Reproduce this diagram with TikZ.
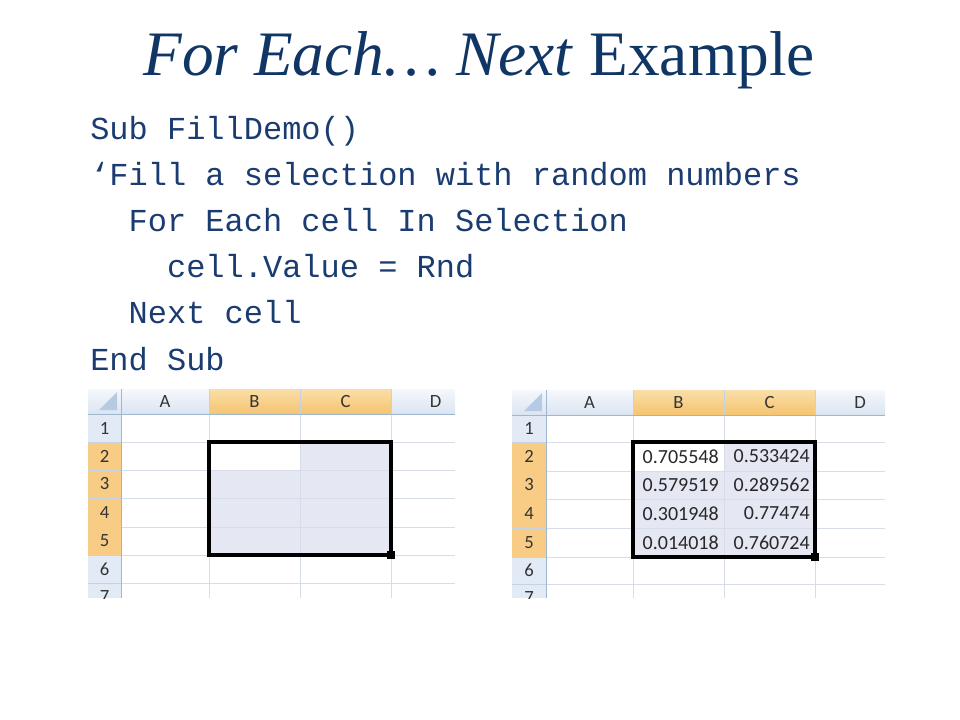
\documentclass[tikz,border=0pt]{standalone}
\usepackage{fontspec}
\setmainfont{Liberation Serif}
\setmonofont{Liberation Mono}
\newfontfamily\sheetfont{Carlito}
\definecolor{slidenavy}{RGB}{16,54,102}
\definecolor{codenavy}{RGB}{26,60,112}
\definecolor{headtop}{RGB}{245,248,252}
\definecolor{headbot}{RGB}{218,228,241}
\definecolor{seltop}{RGB}{250,222,168}
\definecolor{selbot}{RGB}{245,196,112}
\definecolor{rowblue}{RGB}{226,234,246}
\definecolor{roworange}{RGB}{248,204,132}
\definecolor{cornertri}{RGB}{182,202,228}
\definecolor{gridgray}{RGB}{214,220,232}
\definecolor{headline}{RGB}{158,182,206}
\definecolor{headsep}{RGB}{197,210,226}
\definecolor{selfill}{RGB}{229,231,243}
\definecolor{headtext}{RGB}{52,52,52}
\definecolor{celltext}{RGB}{40,40,40}

\begin{document}
\begin{tikzpicture}[x=0.75pt,y=0.75pt,yscale=-1,xscale=1,
  codeline/.style={anchor=base west,inner sep=0pt,text=codenavy,font=\fontsize{24}{28}\selectfont\ttfamily},
  headlabel/.style={inner sep=0.75pt,text=headtext,font=\sheetfont\fontsize{14}{16}\selectfont},
  cellvalue/.style={anchor=east,inner sep=0.75pt,text=celltext,font=\sheetfont\fontsize{15}{18}\selectfont},
  gridline/.style={draw=gridgray,line width=0.75},
  headborder/.style={draw=headline,line width=0.75},
  headdivider/.style={draw=headsep,line width=0.75},
  selborder/.style={draw=black,line width=2.4},
]
\useasboundingbox (0,0) rectangle (960,720);

% Text Node
\draw (479,76) node [anchor=base] [inner sep=0pt,text=slidenavy,font=\fontsize{47.5}{56}\selectfont] (title) {\textit{For Each… Next} Example};
% Text Node
\draw (90,140) node [codeline] (code1) {Sub FillDemo()};
% Text Node
\draw (90,186) node [codeline] (code2) {‘Fill a selection with random numbers};
% Text Node
\draw (128.4,232) node [codeline] (code3) {For Each cell In Selection};
% Text Node
\draw (166.8,278) node [codeline] (code4) {cell.Value = Rnd};
% Text Node
\draw (128.4,324) node [codeline] (code5) {Next cell};
% Text Node
\draw (90,370) node [codeline] (code6) {End Sub};

%Sheet before the macro
\begin{scope}
\clip (88,389) rectangle (455,598);
%Shape: Rectangle [row headers]
\fill [color=rowblue] (88,414) rectangle (121,598);
\fill [color=roworange] (88,442) rectangle (121,555);
%Shape: Rectangle [column headers]
\shade [top color=headtop,bottom color=headbot] (88,389) rectangle (455,414);
\shade [top color=seltop,bottom color=selbot] (209,389) rectangle (391,414);
%Shape: Triangle [corner]
\fill [color=cornertri] (117,392) -- (117,410) -- (99,410) -- cycle ;
%Shape: Rectangle [selection]
\fill [color=selfill] (209,442) rectangle (391,555);
\fill [color=white] (209,442) rectangle (300,470);
%Straight Lines [grid]
\draw [gridline] (209,414) -- (209,598) ;
\draw [gridline] (300,414) -- (300,598) ;
\draw [gridline] (391,414) -- (391,598) ;
\draw [gridline] (121,442) -- (455,442) ;
\draw [gridline] (121,470) -- (455,470) ;
\draw [gridline] (121,498) -- (455,498) ;
\draw [gridline] (121,527) -- (455,527) ;
\draw [gridline] (121,555) -- (455,555) ;
\draw [gridline] (121,583) -- (455,583) ;
%Straight Lines [header borders]
\draw [headborder] (88,414) -- (455,414) ;
\draw [headborder] (121,389) -- (121,598) ;
\draw [headdivider] (209,389) -- (209,414) ;
\draw [headdivider] (300,389) -- (300,414) ;
\draw [headdivider] (391,389) -- (391,414) ;
\draw [headdivider] (88,442) -- (121,442) ;
\draw [headdivider] (88,470) -- (121,470) ;
\draw [headdivider] (88,498) -- (121,498) ;
\draw [headdivider] (88,527) -- (121,527) ;
\draw [headdivider] (88,555) -- (121,555) ;
\draw [headdivider] (88,583) -- (121,583) ;
% Text Node
\draw (165,402) node [headlabel] (lA) {A};
\draw (254.5,402) node [headlabel] (lB) {B};
\draw (345.5,402) node [headlabel] (lC) {C};
\draw (435.5,402) node [headlabel] (lD) {D};
\draw (104.5,428) node [headlabel] (l1) {1};
\draw (104.5,456) node [headlabel] (l2) {2};
\draw (104.5,484) node [headlabel] (l3) {3};
\draw (104.5,512.5) node [headlabel] (l4) {4};
\draw (104.5,541) node [headlabel] (l5) {5};
\draw (104.5,569) node [headlabel] (l6) {6};
\draw (104.5,597) node [headlabel] (l7) {7};
\end{scope}
%Shape: Rectangle [selection border]
\draw [selborder] (209,442) rectangle (391,555);
\fill [color=black] (387,551) rectangle (395,559);

%Sheet after the macro
\begin{scope}
\clip (512,390) rectangle (885,598);
%Shape: Rectangle [row headers]
\fill [color=rowblue] (512,415) rectangle (546,598);
\fill [color=roworange] (512,442) rectangle (546,557);
%Shape: Rectangle [column headers]
\shade [top color=headtop,bottom color=headbot] (512,390) rectangle (885,415);
\shade [top color=seltop,bottom color=selbot] (633,390) rectangle (815,415);
%Shape: Triangle [corner]
\fill [color=cornertri] (542,393) -- (542,411) -- (524,411) -- cycle ;
%Shape: Rectangle [selection]
\fill [color=selfill] (633,442) rectangle (815,557);
\fill [color=white] (633,442) rectangle (724,471);
%Straight Lines [grid]
\draw [gridline] (633,415) -- (633,598) ;
\draw [gridline] (724,415) -- (724,598) ;
\draw [gridline] (815,415) -- (815,598) ;
\draw [gridline] (546,442) -- (885,442) ;
\draw [gridline] (546,471) -- (885,471) ;
\draw [gridline] (546,499) -- (885,499) ;
\draw [gridline] (546,528) -- (885,528) ;
\draw [gridline] (546,557) -- (885,557) ;
\draw [gridline] (546,584) -- (885,584) ;
%Straight Lines [header borders]
\draw [headborder] (512,415) -- (885,415) ;
\draw [headborder] (546,390) -- (546,598) ;
\draw [headdivider] (633,390) -- (633,415) ;
\draw [headdivider] (724,390) -- (724,415) ;
\draw [headdivider] (815,390) -- (815,415) ;
\draw [headdivider] (512,442) -- (546,442) ;
\draw [headdivider] (512,471) -- (546,471) ;
\draw [headdivider] (512,499) -- (546,499) ;
\draw [headdivider] (512,528) -- (546,528) ;
\draw [headdivider] (512,557) -- (546,557) ;
\draw [headdivider] (512,584) -- (546,584) ;
% Text Node
\draw (589.5,403) node [headlabel] (rA) {A};
\draw (678.5,403) node [headlabel] (rB) {B};
\draw (769.5,403) node [headlabel] (rC) {C};
\draw (860,403) node [headlabel] (rD) {D};
\draw (529,428.5) node [headlabel] (r1) {1};
\draw (529,456.5) node [headlabel] (r2) {2};
\draw (529,485) node [headlabel] (r3) {3};
\draw (529,513.5) node [headlabel] (r4) {4};
\draw (529,542.5) node [headlabel] (r5) {5};
\draw (529,570.5) node [headlabel] (r6) {6};
\draw (529,598) node [headlabel] (r7) {7};
% Text Node
\draw (720,456.5) node [cellvalue] (vB2) {0.705548};
\draw (811,456.5) node [cellvalue] (vC2) {0.533424};
\draw (720,485) node [cellvalue] (vB3) {0.579519};
\draw (811,485) node [cellvalue] (vC3) {0.289562};
\draw (720,513.5) node [cellvalue] (vB4) {0.301948};
\draw (811,513.5) node [cellvalue] (vC4) {0.77474};
\draw (720,542.5) node [cellvalue] (vB5) {0.014018};
\draw (811,542.5) node [cellvalue] (vC5) {0.760724};
\end{scope}
%Shape: Rectangle [selection border]
\draw [selborder] (633,442) rectangle (815,557);
\fill [color=black] (811,553) rectangle (819,561);

\end{tikzpicture}
\end{document}
